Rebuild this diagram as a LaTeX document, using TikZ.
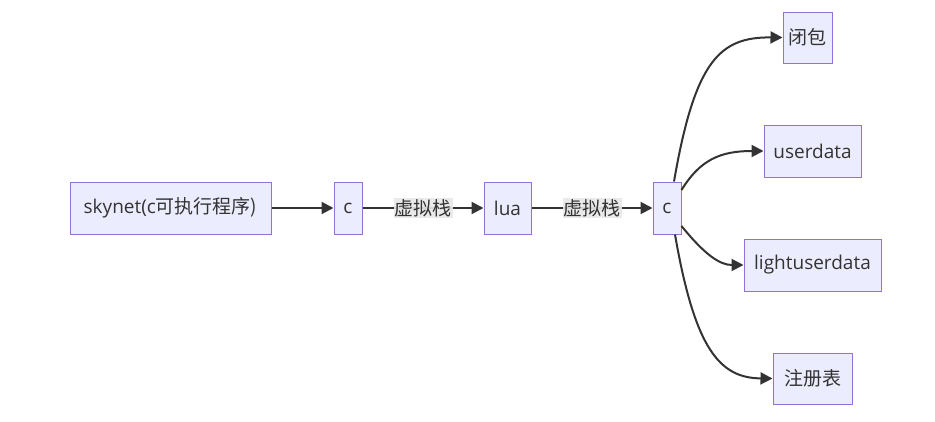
\documentclass[tikz,border=0pt]{standalone}
\usepackage{fontspec}
\setmainfont{Open Sans}
\newfontfamily\cjk{Noto Sans CJK SC}
\usetikzlibrary{arrows.meta}
\definecolor{boxfill}{HTML}{ECECFF}
\definecolor{boxline}{HTML}{9370DB}
\definecolor{linec}{HTML}{333333}
\definecolor{lblbg}{HTML}{E8E8E8}
\begin{document}
\begin{tikzpicture}[x=1pt,y=-1pt,
  box/.style={draw=boxline,fill=boxfill,line width=1pt,minimum height=52pt,inner sep=0pt,
    text=linec,font=\fontsize{19}{22}\selectfont},
  conn/.style={draw=linec,line width=2pt,-{Triangle[length=12pt,width=12pt]}},
  lbl/.style={fill=lblbg,fill opacity=0.9,text opacity=1,text=linec,inner sep=1pt,
    font=\fontsize{19}{22}\selectfont}]
\useasboundingbox (0,0) rectangle (935,421);
\node[box,minimum width=201pt] (sky) at (170.5,208) {skynet(c\cjk{可执行程序})};
\node[box,minimum width=28pt] (c1) at (348,208) {c};
\node[box,minimum width=47pt] (lua) at (507.5,208) {lua};
\node[box,minimum width=28pt] (c2) at (667,208) {c};
\node[box,minimum width=49pt,minimum height=51pt] (bb) at (807.5,37.5) {\cjk{闭包}};
\node[box,minimum width=97pt] (ud) at (812.5,151) {userdata};
\node[box,minimum width=137pt] (lud) at (812.5,265) {lightuserdata};
\node[box,minimum width=79pt,minimum height=51pt] (reg) at (812.5,378.5) {\cjk{注册表}};
\draw[conn] (sky.east) -- (c1.west);
\draw[conn] (c1.east) -- node[lbl]{\cjk{虚拟栈}} (lua.west);
\draw[conn] (lua.east) -- node[lbl]{\cjk{虚拟栈}} (c2.west);
\draw[conn] ([xshift=7pt]c2.north) .. controls (695,60) and (720,37) .. (bb.west);
\draw[conn] ([yshift=18pt]c2.east) .. controls (700,160) and (720,151) .. (ud.west);
\draw[conn] ([yshift=-18pt]c2.east) .. controls (705,255) and (720,265) .. (lud.west);
\draw[conn] ([xshift=8pt]c2.south) .. controls (695,350) and (720,378) .. (reg.west);
\end{tikzpicture}
\end{document}
